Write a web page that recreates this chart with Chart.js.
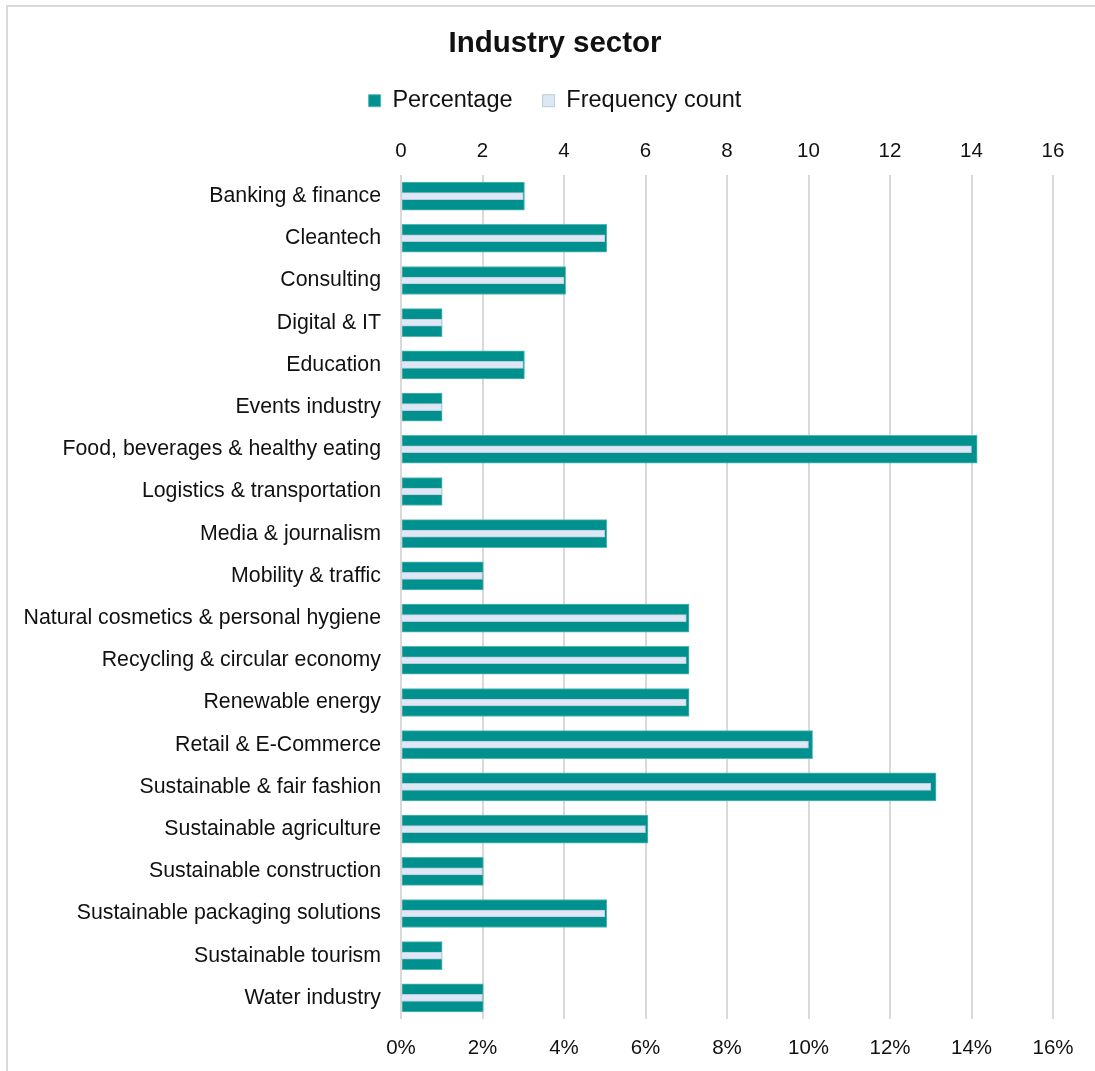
<!DOCTYPE html>
<html>
<head>
<meta charset="utf-8">
<title>Industry sector</title>
<script src="https://cdn.jsdelivr.net/npm/chart.js@4"></script>
<style>
  html, body { margin: 0; padding: 0; background: #fff; overflow: hidden; }
  #wrap { position: relative; width: 1095px; height: 1071px; }
  #myChart { position: absolute; left: 0; top: 0; }
  /* frame of the chart box, only top and left edges fall inside the page */
  #frame {
    position: absolute; left: 6px; top: 5px; width: 1200px; height: 1200px;
    border-top: 2px solid #d9d9d9; border-left: 2px solid #d9d9d9;
    pointer-events: none;
  }
</style>
</head>
<body>
<div id="wrap">
  <canvas id="myChart" width="1095" height="1071"></canvas>
  <div id="frame"></div>
</div>
<script>
  const categories = [
    'Banking & finance',
    'Cleantech',
    'Consulting',
    'Digital & IT',
    'Education',
    'Events industry',
    'Food, beverages & healthy eating',
    'Logistics & transportation',
    'Media & journalism',
    'Mobility & traffic',
    'Natural cosmetics & personal hygiene',
    'Recycling & circular economy',
    'Renewable energy',
    'Retail & E-Commerce',
    'Sustainable & fair fashion',
    'Sustainable agriculture',
    'Sustainable construction',
    'Sustainable packaging solutions',
    'Sustainable tourism',
    'Water industry'
  ];

  // share of respondents, in percent
  const percentage = [3.03, 5.05, 4.04, 1.01, 3.03, 1.01, 14.14, 1.01, 5.05, 2.02,
                      7.07, 7.07, 7.07, 10.10, 13.13, 6.06, 2.02, 5.05, 1.01, 2.02];
  // number of respondents
  const frequency = [3, 5, 4, 1, 3, 1, 14, 1, 5, 2,
                     7, 7, 7, 10, 13, 6, 2, 5, 1, 2];

  const axisTicks = [0, 2, 4, 6, 8, 10, 12, 14, 16];

  const FONT = "'Liberation Sans', Arial, sans-serif";
  const TEXT = '#111111';
  const GRID = '#d9d9d9';

  Chart.defaults.font.family = FONT;
  Chart.defaults.color = TEXT;

  // long category names run past the left padding; let the y labels use the whole left side
  const labelRoom = {
    id: 'labelRoom',
    afterLayout(chart) {
      chart.scales.y.left = 0;
    }
  };

  const ctx = document.getElementById('myChart').getContext('2d');

  new Chart(ctx, {
    type: 'bar',
    data: {
      labels: categories,
      datasets: [
        {
          label: 'Percentage',
          data: percentage,
          xAxisID: 'x',
          backgroundColor: '#00918f',
          borderColor: '#55b8b5',
          borderWidth: 1,
          borderSkipped: false,
          barThickness: 28,
          grouped: false,
          order: 1
        },
        {
          label: 'Frequency count',
          data: frequency,
          xAxisID: 'x2',
          backgroundColor: '#dde8f4',
          borderColor: '#bccbdc',
          borderWidth: 1,
          borderSkipped: false,
          barThickness: 7,
          grouped: false,
          order: 0
        }
      ]
    },
    plugins: [labelRoom],
    options: {
      indexAxis: 'y',
      responsive: false,
      animation: false,
      layout: { padding: { top: 0, left: 57, right: 42, bottom: 0 } },
      plugins: {
        title: {
          display: true,
          text: 'Industry sector',
          color: TEXT,
          font: { size: 29.5, weight: 'bold', family: FONT, lineHeight: 1.05 },
          padding: { top: 28, bottom: 0 }
        },
        legend: {
          display: true,
          position: 'top',
          labels: {
            boxWidth: 12,
            boxHeight: 12,
            padding: 30,
            color: TEXT,
            font: { size: 23.5, family: FONT },
            sort: (a, b) => a.datasetIndex - b.datasetIndex
          }
        },
        tooltip: { enabled: false }
      },
      scales: {
        x: {
          position: 'bottom',
          min: 0,
          max: 16,
          afterBuildTicks: (scale) => { scale.ticks = axisTicks.map(v => ({ value: v })); },
          ticks: {
            color: TEXT,
            font: { size: 20.5, family: FONT },
            padding: 17,
            maxRotation: 0,
            callback: (v) => v + '%'
          },
          grid: { color: GRID, lineWidth: 2, drawTicks: false },
          border: { display: false },
          afterFit: (scale) => { scale.height = 52; }
        },
        x2: {
          position: 'top',
          min: 0,
          max: 16,
          afterBuildTicks: (scale) => { scale.ticks = axisTicks.map(v => ({ value: v })); },
          ticks: {
            color: TEXT,
            font: { size: 20.5, family: FONT },
            padding: 11,
            maxRotation: 0
          },
          grid: { display: false, drawTicks: false },
          border: { display: false },
          afterFit: (scale) => { scale.height = 52.5; }
        },
        y: {
          ticks: {
            color: TEXT,
            font: { size: 21.3, family: FONT },
            padding: 20,
            autoSkip: false
          },
          grid: { display: false, drawTicks: false },
          border: { display: false },
          afterFit: (scale) => { scale.width = 344; }
        }
      }
    }
  });
</script>
</body>
</html>
